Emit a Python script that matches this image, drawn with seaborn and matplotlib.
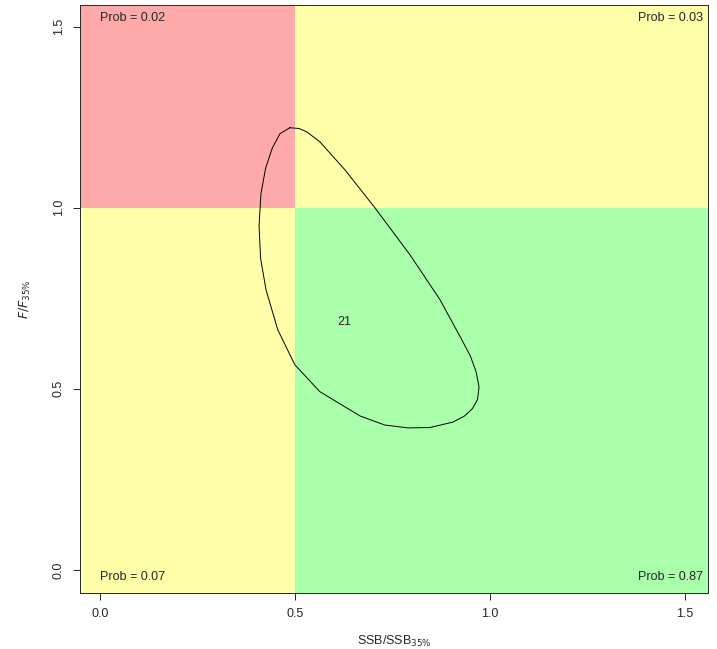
import matplotlib
matplotlib.use("Agg")
import matplotlib.pyplot as plt
import seaborn as sns
import pandas as pd

# contour (SSB/SSB35%, F/F35%)
ssb = [0.487, 0.510, 0.530, 0.564, 0.628, 0.705, 0.795, 0.872, 0.928, 0.950, 0.965, 0.972, 0.968,
       0.955, 0.935, 0.905, 0.846, 0.790, 0.730, 0.667, 0.564, 0.500, 0.456, 0.426, 0.412, 0.408,
       0.413, 0.425, 0.442, 0.462, 0.487]
f = [1.221, 1.219, 1.210, 1.182, 1.105, 1.000, 0.870, 0.746, 0.635, 0.590, 0.545, 0.505, 0.470,
     0.445, 0.425, 0.408, 0.393, 0.392, 0.400, 0.425, 0.492, 0.566, 0.663, 0.773, 0.860, 0.950,
     1.040, 1.110, 1.165, 1.205, 1.221]
label_pos = (0.626, 0.685)
label_txt = "21"
probs = {"tl": 0.02, "tr": 0.03, "bl": 0.07, "br": 0.87}

sns.set_style("ticks")
plt.rcParams['font.family'] = ['Liberation Sans', 'DejaVu Sans']

fig = plt.figure(figsize=(7.17, 6.49), dpi=100)
ax = fig.add_axes([80/717, 56/649, 628/717, 588/649])
xmin, xmax, ymin, ymax = -0.051, 1.559, -0.064, 1.56
ax.set_xlim(xmin, xmax)
ax.set_ylim(ymin, ymax)

ax.fill_between([xmin, 0.5], 1, ymax, color="#FFAAAA", lw=0)
ax.fill_between([0.5, xmax], 1, ymax, color="#FFFFAA", lw=0)
ax.fill_between([xmin, 0.5], ymin, 1, color="#FFFFAA", lw=0)
ax.fill_between([0.5, xmax], ymin, 1, color="#AAFFAA", lw=0)

df = pd.DataFrame({"ssb": ssb, "f": f})
sns.lineplot(data=df, x="ssb", y="f", sort=False, estimator=None, color="black", lw=0.7, ax=ax)
ax.text(label_pos[0], label_pos[1], label_txt, ha="center", va="center", fontsize=9)

kw = dict(fontsize=9)
ax.text(0.0, 1.525, f"Prob = {probs['tl']:.2f}", ha="left", va="center", **kw)
ax.text(1.545, 1.525, f"Prob = {probs['tr']:.2f}", ha="right", va="center", **kw)
ax.text(0.0, -0.02, f"Prob = {probs['bl']:.2f}", ha="left", va="center", **kw)
ax.text(1.545, -0.02, f"Prob = {probs['br']:.2f}", ha="right", va="center", **kw)

ax.set_xticks([0.0, 0.5, 1.0, 1.5])
ax.set_yticks([0.0, 0.5, 1.0, 1.5])
ax.set_xticklabels(["0.0", "0.5", "1.0", "1.5"], fontsize=9)
ax.set_yticklabels(["0.0", "0.5", "1.0", "1.5"], fontsize=9, rotation=90, va="center")
ax.tick_params(length=5, width=0.7, pad=6)
for s in ax.spines.values():
    s.set_linewidth(0.7)
ax.set_xlabel("SSB/SSB$_{35\\%}$", fontsize=9, labelpad=10)
ax.set_ylabel("$F/F_{35\\%}$", fontsize=9, labelpad=14)

fig.savefig("out.png", dpi=100)
